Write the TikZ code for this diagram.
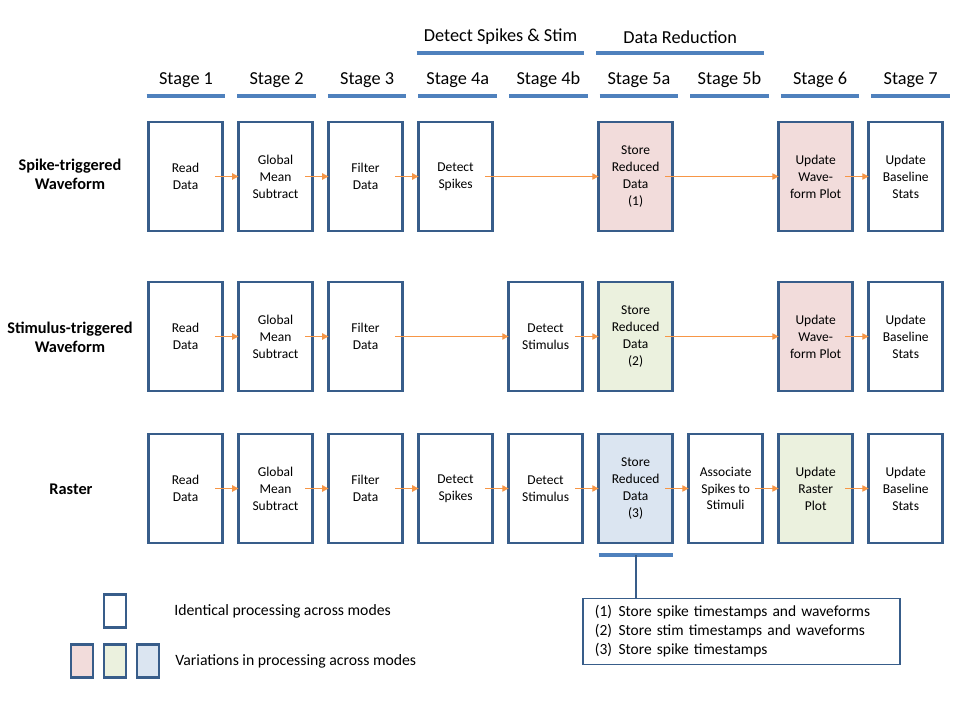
\documentclass[tikz,border=0pt]{standalone}
\usepackage{fontspec}
\setmainfont{Carlito}
\usepackage{xcolor}
\usepackage{tikz}
\usetikzlibrary{arrows.meta, positioning}
\definecolor{boxblue}{RGB}{56, 93, 138}
\definecolor{barblue}{RGB}{79, 129, 189}
\definecolor{flowors}{RGB}{247, 150, 70}
\definecolor{varpink}{RGB}{242, 220, 219}
\definecolor{vargreen}{RGB}{235, 241, 222}
\definecolor{varblue}{RGB}{219, 229, 241}

\begin{document}
\begin{tikzpicture}[
        x=0.025cm, y=-0.025cm,
        proc/.style={rectangle, draw=boxblue, fill=white, line width=2pt, outer sep=0pt, inner sep=0pt, minimum width=1.85cm, minimum height=2.725cm, align=center, font=\fontsize{9.6}{12}\selectfont},
        stage/.style={rectangle, inner sep=0pt, minimum width=1.95cm, minimum height=0.8cm, font=\fontsize{13}{15}\selectfont},
        group/.style={stage, minimum width=4.175cm},
        mode/.style={align=center, inner sep=0pt, font=\fontsize{11.6}{13.5}\selectfont\bfseries},
        bar/.style={barblue, line width=0.1cm},
        flow/.style={-{Triangle[length=4.5pt, width=4.5pt]}, flowors, line width=0.75pt},
        key/.style={rectangle, draw=boxblue, line width=2pt, outer sep=0pt, minimum width=0.55cm, minimum height=0.825cm},
        legend/.style={inner sep=0pt, font=\fontsize{11.2}{13.5}\selectfont},
        note/.style={rectangle, draw=boxblue, line width=1.3pt, inner xsep=0.3cm, text width=7.325cm, minimum height=1.65cm, align=left, font=\fontsize{11}{13.5}\selectfont},
        node distance=0.4cm
    ]
        \path[fill=white] (0,0) rectangle (960,720);

        % Headers
        \node (grpdetect) [group] at (500.5,37) {Detect Spikes \& Stim};
        \node (grpreduce) [group, right=0.3cm of grpdetect] {Data Reduction};
        \draw [bar] (grpdetect.south west) -- (grpdetect.south east);
        \draw [bar] (grpreduce.south west) -- (grpreduce.south east);

        \node (st1) [stage] at (186,80) {Stage 1};
        \node (st2) [stage, right=0.3cm of st1] {Stage 2};
        \node (st3) [stage, right=0.3cm of st2] {Stage 3};
        \node (st4a) [stage, right=0.3cm of st3] {Stage 4a};
        \node (st4b) [stage, right=0.3cm of st4a] {Stage 4b};
        \node (st5a) [stage, right=0.3cm of st4b] {Stage 5a};
        \node (st5b) [stage, right=0.3cm of st5a] {Stage 5b};
        \node (st6) [stage, right=0.3cm of st5b] {Stage 6};
        \node (st7) [stage, right=0.3cm of st6] {Stage 7};
        \foreach \s in {st1, st2, st3, st4a, st4b, st5a, st5b, st6, st7}
            \draw [bar] (\s.south west) -- (\s.south east);

        % Modes
        \node (spikewave) [mode] at (70,174) {Spike-triggered\\Waveform};
        \node (stimwave) [mode] at (70,337) {Stimulus-triggered\\Waveform};
        \node (raster) [mode] at (71,489) {Raster};

        % Nodes: spike-triggered waveform
        \node (readA) [proc] at (185.5,176.5) {Read\\Data};
        \node (meanA) [proc, right=of readA] {Global\\Mean\\Subtract};
        \node (filterA) [proc, right=of meanA] {Filter\\Data};
        \node (spikesA) [proc, right=of filterA] {Detect\\Spikes};
        \node (storeA) [proc, fill=varpink, right=2.65cm of spikesA] {Store\\Reduced\\Data\\(1)};
        \node (plotA) [proc, fill=varpink, right=2.65cm of storeA] {Update\\Wave-\\form Plot};
        \node (statsA) [proc, right=of plotA] {Update\\Baseline\\Stats};

        % Nodes: stimulus-triggered waveform
        \node (readB) [proc] at (185.5,336.5) {Read\\Data};
        \node (meanB) [proc, right=of readB] {Global\\Mean\\Subtract};
        \node (filterB) [proc, right=of meanB] {Filter\\Data};
        \node (stimB) [proc, right=2.65cm of filterB] {Detect\\Stimulus};
        \node (storeB) [proc, fill=vargreen, right=of stimB] {Store\\Reduced\\Data\\(2)};
        \node (plotB) [proc, fill=varpink, right=2.65cm of storeB] {Update\\Wave-\\form Plot};
        \node (statsB) [proc, right=of plotB] {Update\\Baseline\\Stats};

        % Nodes: raster
        \node (readC) [proc] at (185.5,488.5) {Read\\Data};
        \node (meanC) [proc, right=of readC] {Global\\Mean\\Subtract};
        \node (filterC) [proc, right=of meanC] {Filter\\Data};
        \node (spikesC) [proc, right=of filterC] {Detect\\Spikes};
        \node (stimC) [proc, right=of spikesC] {Detect\\Stimulus};
        \node (storeC) [proc, fill=varblue, right=of stimC] {Store\\Reduced\\Data\\(3)};
        \node (assocC) [proc, right=of storeC] {Associate\\Spikes to\\Stimuli};
        \node (plotC) [proc, fill=vargreen, right=of assocC] {Update\\Raster\\Plot};
        \node (statsC) [proc, right=of plotC] {Update\\Baseline\\Stats};

        % Arrows
        \draw [flow] ([xshift=-0.18cm]readA.east) -- (meanA.west);
        \draw [flow] ([xshift=-0.18cm]meanA.east) -- (filterA.west);
        \draw [flow] ([xshift=-0.18cm]filterA.east) -- (spikesA.west);
        \draw [flow] ([xshift=-0.18cm]spikesA.east) -- (storeA.west);
        \draw [flow] ([xshift=-0.18cm]storeA.east) -- (plotA.west);
        \draw [flow] ([xshift=-0.18cm]plotA.east) -- (statsA.west);

        \draw [flow] ([xshift=-0.18cm]readB.east) -- (meanB.west);
        \draw [flow] ([xshift=-0.18cm]meanB.east) -- (filterB.west);
        \draw [flow] ([xshift=-0.18cm]filterB.east) -- (stimB.west);
        \draw [flow] ([xshift=-0.18cm]stimB.east) -- (storeB.west);
        \draw [flow] ([xshift=-0.18cm]storeB.east) -- (plotB.west);
        \draw [flow] ([xshift=-0.18cm]plotB.east) -- (statsB.west);

        \draw [flow] ([xshift=-0.18cm]readC.east) -- (meanC.west);
        \draw [flow] ([xshift=-0.18cm]meanC.east) -- (filterC.west);
        \draw [flow] ([xshift=-0.18cm]filterC.east) -- (spikesC.west);
        \draw [flow] ([xshift=-0.18cm]spikesC.east) -- (stimC.west);
        \draw [flow] ([xshift=-0.18cm]stimC.east) -- (storeC.west);
        \draw [flow] ([xshift=-0.18cm]storeC.east) -- (assocC.west);
        \draw [flow] ([xshift=-0.18cm]assocC.east) -- (plotC.west);
        \draw [flow] ([xshift=-0.18cm]plotC.east) -- (statsC.west);

        % Reduced data note
        \node (note) [note] at (741.5,631.5) {%
            (1)\hspace{4.5pt}Store spike timestamps and waveforms\\
            (2)\hspace{4.5pt}Store stim timestamps and waveforms\\
            (3)\hspace{4.5pt}Store spike timestamps};
        \coordinate (tap) at ([yshift=-0.3cm]storeC.south);
        \draw [bar] ([yshift=-0.3cm]storeC.south west) -- ([yshift=-0.3cm]storeC.south east);
        \draw [boxblue, line width=1.5pt] (tap) -- (tap |- note.north);

        % Legend
        \node (keygreen) [key, fill=vargreen] at (115,661) {};
        \node (keypink) [key, fill=varpink, left=0.275cm of keygreen] {};
        \node (keyblue) [key, fill=varblue, right=0.275cm of keygreen] {};
        \node (keysame) [key, fill=white, above=0.425cm of keygreen] {};
        \node (txtsame) [legend, right=1.2cm of keysame] {Identical processing across modes};
        \node (txtvary) [legend, right=0.4cm of keyblue] {Variations in processing across modes};

    \end{tikzpicture}
\end{document}
